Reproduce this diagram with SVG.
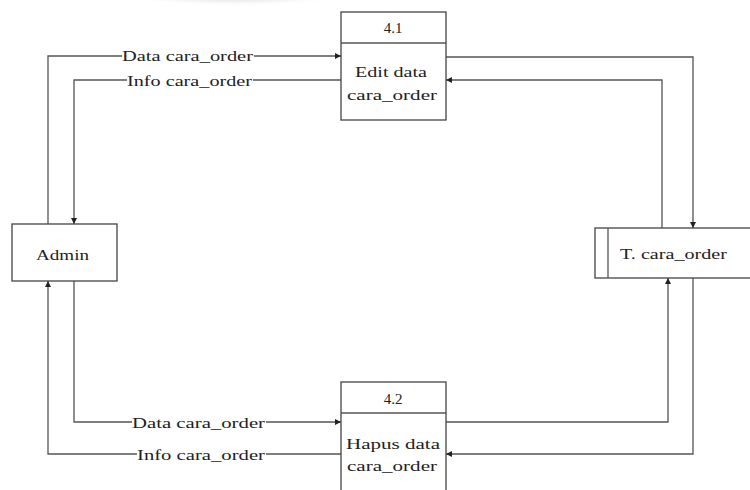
<svg xmlns="http://www.w3.org/2000/svg" width="750" height="490" viewBox="0 0 750 490">
<defs>
<marker id="arr" viewBox="0 0 10 10" refX="10" refY="5" markerWidth="6" markerHeight="6" markerUnits="userSpaceOnUse" orient="auto">
<path d="M0,0 L10,5 L0,10 z" fill="#222"/>
</marker>
<radialGradient id="shade" cx="0.5" cy="0" r="0.5" gradientTransform="translate(0.5 0) scale(1 2) translate(-0.5 0)">
<stop offset="0" stop-color="#999" stop-opacity="0.8"/>
<stop offset="1" stop-color="#fff" stop-opacity="0"/>
</radialGradient>
<style>
.box{fill:#fff;stroke:#444;stroke-width:1.3}
.ln{fill:none;stroke:#555;stroke-width:1.3}
.t{font-family:"Liberation Serif","Times New Roman",serif;font-size:15px;fill:#222}
.c{text-anchor:middle}
.lbl{fill:#fff}
</style>
</defs>
<ellipse cx="235" cy="0" rx="120" ry="7" fill="url(#shade)"/>
<g id="connectors">
<polyline class="ln" points="48,224 48,56 341,56" marker-end="url(#arr)"/>
<polyline class="ln" points="341,80 74,80 74,224" marker-end="url(#arr)"/>
<polyline class="ln" points="446,57 693,57 693,228" marker-end="url(#arr)"/>
<polyline class="ln" points="662,228 662,80 446,80" marker-end="url(#arr)"/>
<polyline class="ln" points="74,281 74,422 341,422" marker-end="url(#arr)"/>
<polyline class="ln" points="341,454 48,454 48,281" marker-end="url(#arr)"/>
<polyline class="ln" points="446,422 668,422 668,278" marker-end="url(#arr)"/>
<polyline class="ln" points="693,278 693,454 446,454" marker-end="url(#arr)"/>
<rect class="lbl" x="122" y="49" width="132" height="14"/>
<text class="t" x="122" y="61" textLength="131" lengthAdjust="spacingAndGlyphs">Data cara_order</text>
<rect class="lbl" x="127" y="73" width="126" height="14"/>
<text class="t" x="127" y="86" textLength="125" lengthAdjust="spacingAndGlyphs">Info cara_order</text>
<rect class="lbl" x="132" y="415" width="134" height="14"/>
<text class="t" x="132" y="428" textLength="133" lengthAdjust="spacingAndGlyphs">Data cara_order</text>
<rect class="lbl" x="137" y="447" width="129" height="14"/>
<text class="t" x="137" y="460" textLength="128" lengthAdjust="spacingAndGlyphs">Info cara_order</text>
</g>
<g id="admin">
<rect class="box" x="12" y="224" width="105" height="57"/>
<text class="t" x="36" y="260" textLength="53" lengthAdjust="spacingAndGlyphs">Admin</text>
</g>
<g id="p41">
<rect class="box" x="341" y="12" width="105" height="108"/>
<line class="ln" x1="341" y1="43" x2="446" y2="43"/>
<text class="t c" x="393" y="33">4.1</text>
<text class="t" x="355" y="77" textLength="72" lengthAdjust="spacingAndGlyphs">Edit data</text>
<text class="t" x="347" y="100" textLength="90" lengthAdjust="spacingAndGlyphs">cara_order</text>
</g>
<g id="p42">
<rect class="box" x="341" y="382" width="105" height="112"/>
<line class="ln" x1="341" y1="413" x2="446" y2="413"/>
<text class="t c" x="393" y="404">4.2</text>
<text class="t" x="346" y="449" textLength="94" lengthAdjust="spacingAndGlyphs">Hapus data</text>
<text class="t" x="347" y="471" textLength="90" lengthAdjust="spacingAndGlyphs">cara_order</text>
</g>
<g id="tcara">
<rect class="box" x="595" y="228" width="160" height="50"/>
<line class="ln" x1="608" y1="228" x2="608" y2="278"/>
<text class="t" x="620" y="259" textLength="107" lengthAdjust="spacingAndGlyphs">T. cara_order</text>
</g>
</svg>
